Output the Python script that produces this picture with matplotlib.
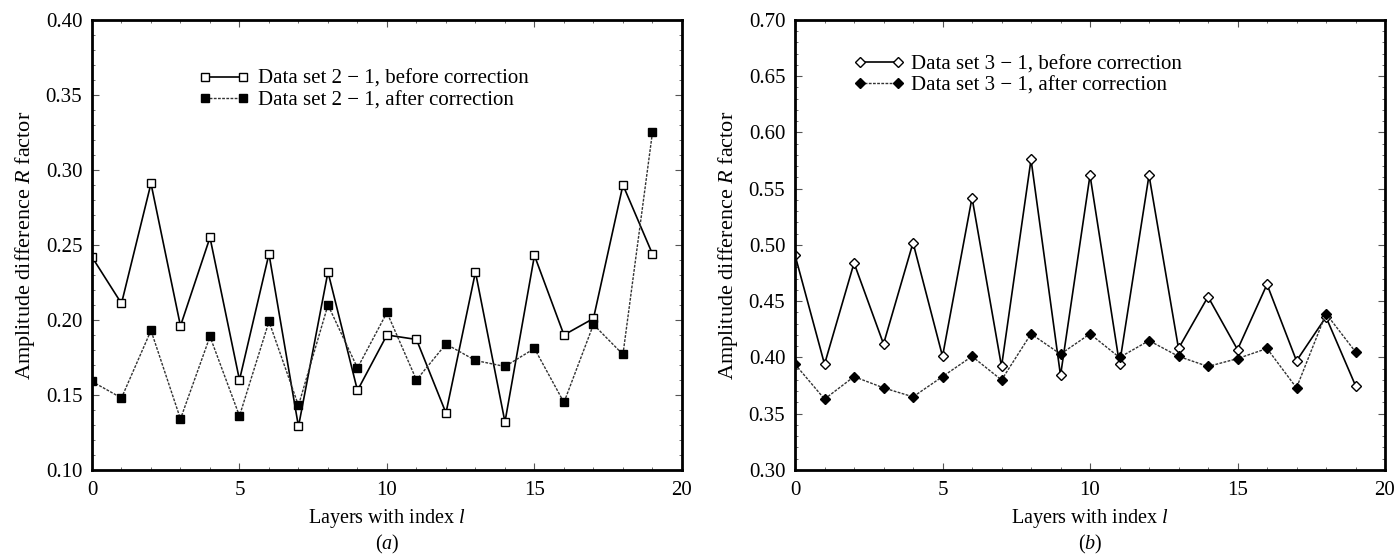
import matplotlib
matplotlib.use('Agg')
import matplotlib.pyplot as plt
import numpy as np
from matplotlib.ticker import MultipleLocator

plt.rcParams['font.family'] = ['Liberation Serif', 'DejaVu Serif']
plt.rcParams['mathtext.fontset'] = 'custom'
plt.rcParams['mathtext.it'] = 'Liberation Serif:italic'
plt.rcParams['mathtext.rm'] = 'Liberation Serif'

layers = np.arange(20)

# panel (a): data set 2 - 1
before_a = [0.242, 0.211, 0.291, 0.196, 0.255, 0.160, 0.244, 0.129, 0.232, 0.153,
            0.190, 0.187, 0.138, 0.232, 0.132, 0.243, 0.190, 0.201, 0.290, 0.244]
after_a = [0.159, 0.148, 0.193, 0.134, 0.189, 0.136, 0.199, 0.143, 0.210, 0.168,
           0.205, 0.160, 0.184, 0.173, 0.169, 0.181, 0.145, 0.197, 0.177, 0.325]

# panel (b): data set 3 - 1
before_b = [0.491, 0.394, 0.484, 0.412, 0.502, 0.401, 0.542, 0.392, 0.576, 0.384,
            0.562, 0.394, 0.562, 0.408, 0.454, 0.407, 0.465, 0.397, 0.436, 0.375]
after_b = [0.394, 0.363, 0.383, 0.373, 0.365, 0.383, 0.401, 0.380, 0.421, 0.403,
           0.421, 0.400, 0.415, 0.401, 0.392, 0.399, 0.408, 0.373, 0.439, 0.405]

fs = 15


def style_axes(ax, ylim):
    ax.set_xlim(0, 20)
    ax.set_ylim(*ylim)
    ax.xaxis.set_major_locator(MultipleLocator(5))
    ax.xaxis.set_minor_locator(MultipleLocator(1))
    ax.yaxis.set_major_locator(MultipleLocator(0.05))
    ax.yaxis.set_minor_locator(MultipleLocator(0.01))
    ax.yaxis.set_major_formatter(matplotlib.ticker.FormatStrFormatter('%.2f'))
    ax.tick_params(which='both', direction='in', top=True, right=True,
                   labelsize=fs, color='#555555')
    ax.tick_params(which='major', length=5, width=0.8)
    ax.tick_params(which='minor', length=2.5, width=0.6)
    ax.tick_params(axis='x', pad=8)
    ax.tick_params(axis='y', pad=7)
    for s in ax.spines.values():
        s.set_linewidth(2)
    ax.set_xlabel('Layers with index $l$', fontsize=14.5, labelpad=5)
    ax.set_ylabel('Amplitude difference $R$ factor', fontsize=16, labelpad=6)


fig = plt.figure(figsize=(13.98, 5.56), dpi=100)
ax1 = fig.add_axes([0.0658, 0.1547, 0.422, 0.8094])
ax2 = fig.add_axes([0.5687, 0.1547, 0.422, 0.8094])

ax1.plot(layers, before_a, '-', color='black', lw=1.2, marker='s', ms=5.5,
         mfc='white', mec='black', mew=1, label='Data set 2 − 1, before correction')
ax1.plot(layers, after_a, color='#333333', lw=1.0, ls=(0, (2, 1)), marker='s', ms=5.5,
         mfc='black', mec='black', label='Data set 2 − 1, after correction')
style_axes(ax1, (0.10, 0.40))
ax1.legend(loc='upper left', bbox_to_anchor=(0.181, 0.89), frameon=False,
           fontsize=fs, numpoints=2, handlelength=2.4, handletextpad=0.45,
           labelspacing=0.08, borderpad=0, borderaxespad=0)

ax2.plot(layers, before_b, '-', color='black', lw=1.2, marker='D', ms=4.8,
         mfc='white', mec='black', mew=1, label='Data set 3 − 1, before correction')
ax2.plot(layers, after_b, color='#333333', lw=1.0, ls=(0, (2, 1)), marker='D', ms=4.8,
         mfc='black', mec='black', label='Data set 3 − 1, after correction')
style_axes(ax2, (0.30, 0.70))
ax2.legend(loc='upper left', bbox_to_anchor=(0.1, 0.923), frameon=False,
           fontsize=fs, numpoints=2, handlelength=2.4, handletextpad=0.35,
           labelspacing=0.08, borderpad=0, borderaxespad=0)

fig.text(0.0658 + 0.211, 0.0, '($a$)', ha='center', va='bottom', fontsize=14.5)
fig.text(0.5687 + 0.211, 0.0, '($b$)', ha='center', va='bottom', fontsize=14.5)

fig.savefig('out.png', dpi=100)
